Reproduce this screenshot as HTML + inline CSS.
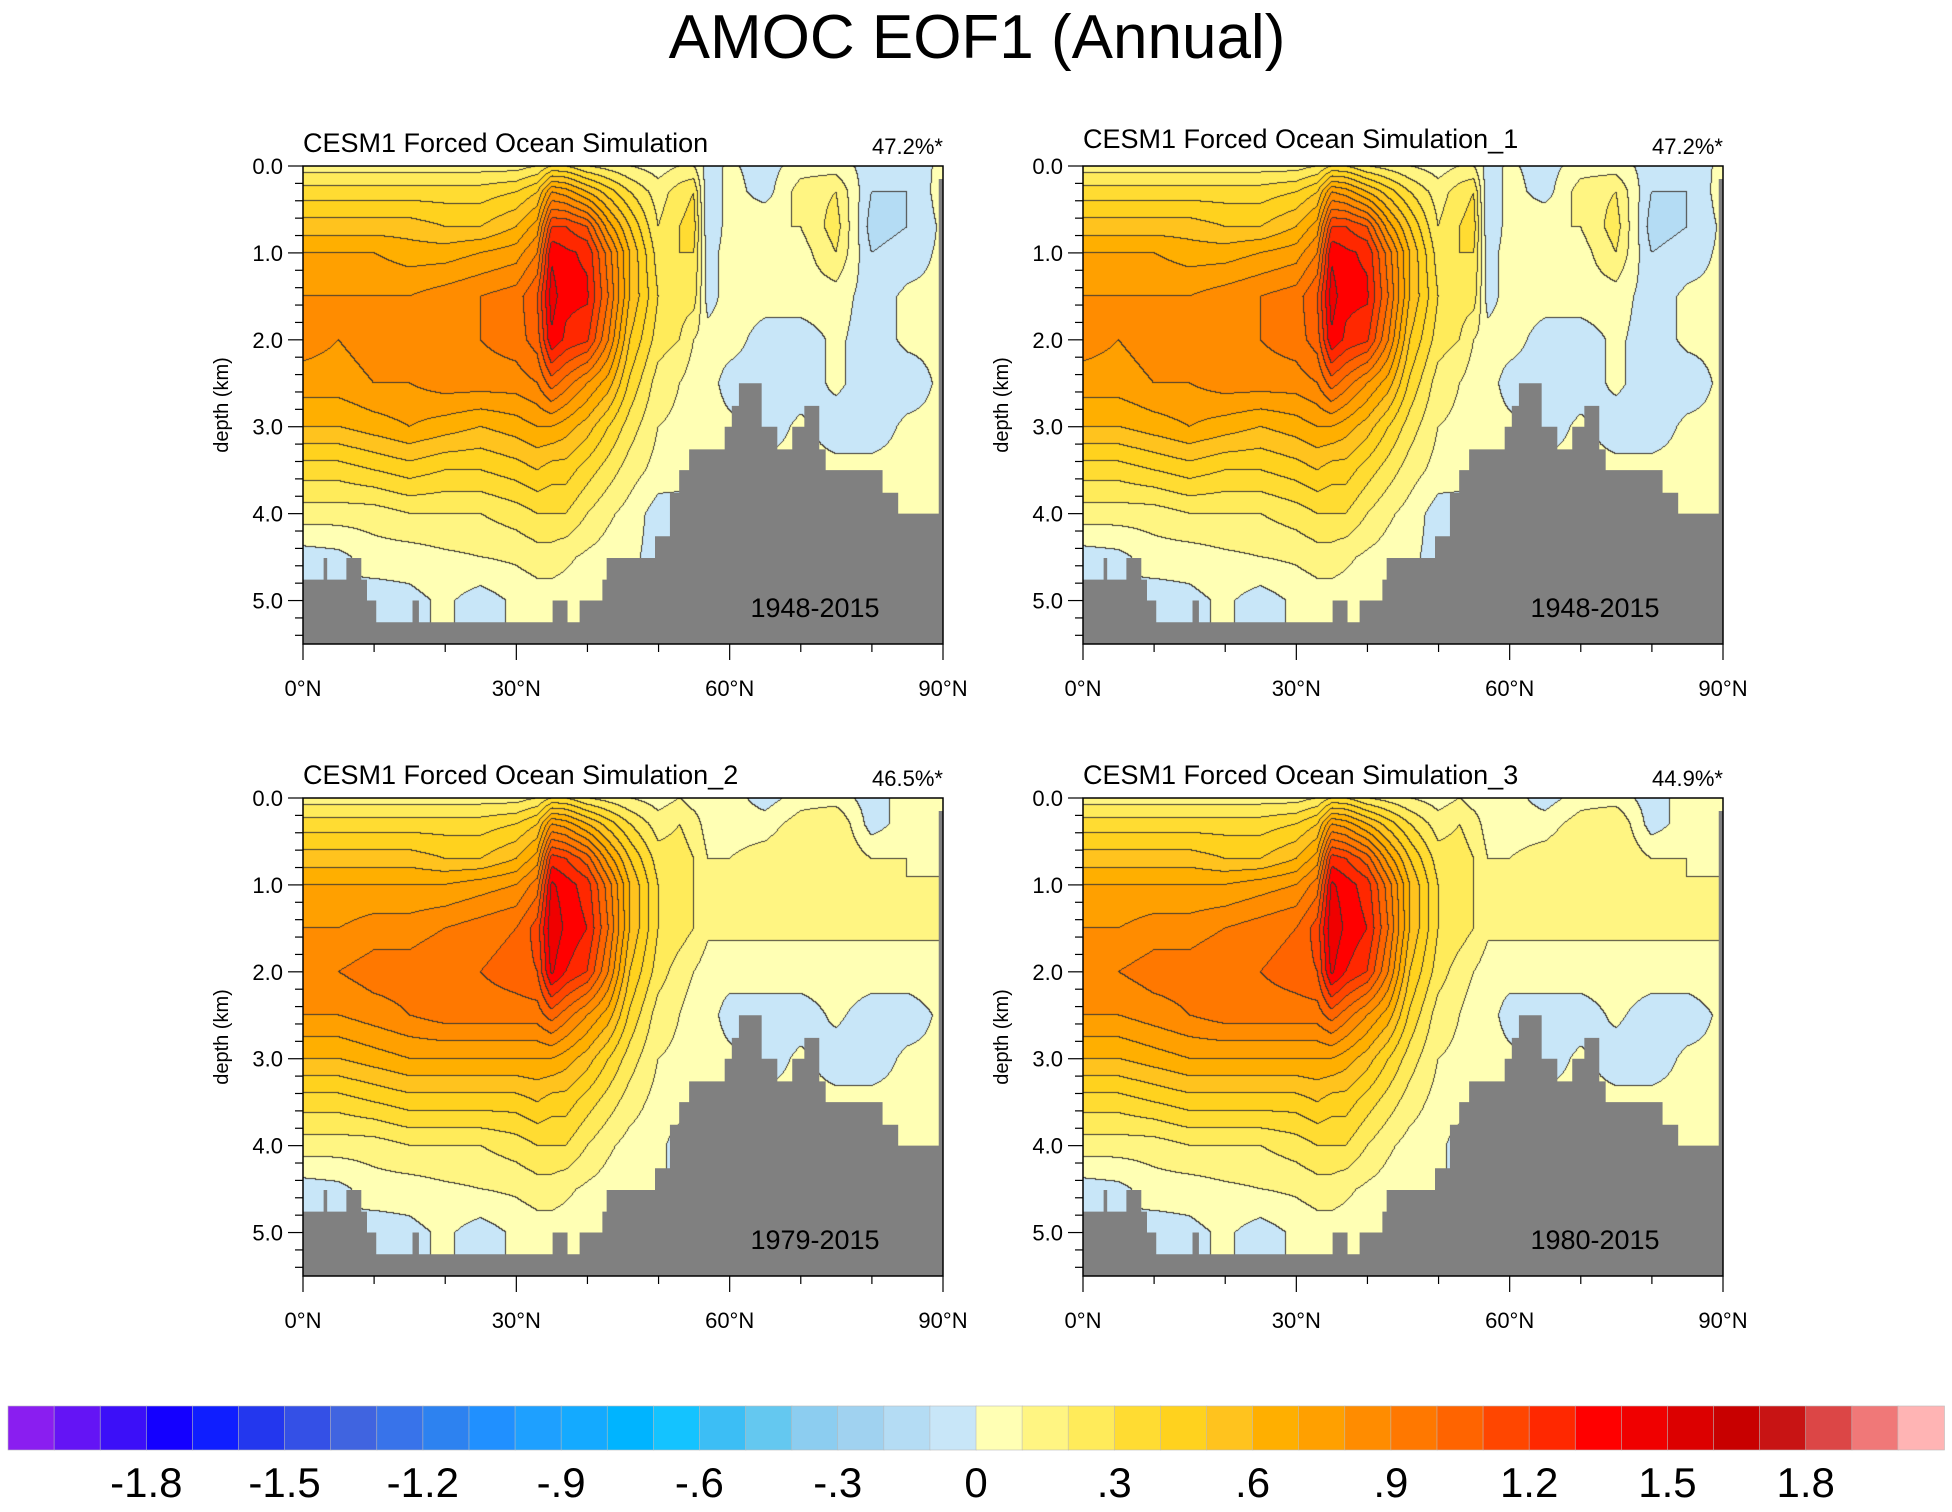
<!DOCTYPE html>
<html><head><meta charset="utf-8">
<style>
html,body{margin:0;padding:0;background:#fff;}
body{width:1952px;height:1512px;position:relative;overflow:hidden;font-family:"Liberation Sans",sans-serif;}
canvas{position:absolute;}
svg{position:absolute;left:0;top:0;}
</style></head>
<body>
<div id="plots"></div>
<svg id="svg" width="1952" height="1512"></svg>
<script>
// ---- data ----
const lats=[0,5,10,15,20,25,30,33,35,37,40,43,46,50,53,55,57,60,65,70,75,80,85,90];
const depths=[0,0.3,0.7,1,1.5,2,2.5,3,3.5,4,4.5,5,5.5];
const gridTop=[
[.15,.15,.15,.15,.15,.15,.15,.2,.3,.3,.2,.15,.1,.05,.1,.1,-.05,.02,-.05,.05,.05,-.05,-.05,.02],
[.35,.35,.35,.35,.35,.35,.4,.5,.8,.75,.6,.45,.3,.15,.25,.3,-.1,.05,-.05,.15,.2,-.1,-.1,.05],
[.55,.55,.55,.55,.5,.5,.6,.75,1.2,1.2,1.1,.75,.5,.2,.3,.35,-.1,.05,.1,.1,.25,-.15,-.1,.02],
[.7,.7,.7,.65,.65,.7,.75,.9,1.38,1.32,1.28,.95,.6,.25,.3,.3,-.05,.05,.1,.05,.2,-.1,-.05,.02],
[.8,.8,.8,.8,.85,.9,.95,1.1,1.45,1.33,1.32,1.0,.6,.3,.25,.25,-.05,.05,.05,.05,.05,-.05,.02,.02],
[.85,.8,.85,.85,.9,.9,.95,1.05,1.38,1.28,1.22,.9,.5,.25,.2,.1,.05,.05,-.05,-.05,.02,-.05,.02,.02],
[.75,.75,.8,.8,.85,.85,.85,.9,1.05,.95,.8,.65,.38,.15,.1,.05,.05,-.05,-.05,-.05,.02,-.05,-.05,.02],
[.6,.6,.65,.7,.65,.6,.65,.7,.7,.65,.55,.4,.25,.1,.08,.05,.05,.03,-.05,.02,-.05,-.05,.02,.02],
[.35,.35,.4,.45,.4,.4,.45,.5,.45,.45,.35,.25,.15,.06,.05,.03,.03,.03,.03,.03,.03,.03,.03,.03],
[.15,.15,.15,.2,.2,.2,.25,.3,.3,.3,.2,.12,.06,-.05,-.05,.03,.03,.03,.03,.03,.03,.03,.03,.03],
[-.05,-.03,.05,.05,.08,.1,.12,.15,.15,.12,.08,.05,.03,-.05,-.05,.03,.03,.03,.03,.03,.03,.03,.03,.03],
[-.05,.02,-.05,-.03,.02,-.05,.02,.05,.05,.05,.03,.03,.03,.03,.03,.03,.03,.03,.03,.03,.03,.03,.03,.03],
[-.05,.02,-.05,-.03,.02,-.05,.02,.05,.05,.05,.03,.03,.03,.03,.03,.03,.03,.03,.03,.03,.03,.03,.03,.03]];
const gridBottom=[
[.15,.15,.15,.15,.15,.15,.15,.2,.3,.3,.2,.15,.1,.05,.1,.05,.05,.05,-.05,.05,.05,-.05,.05,.02],
[.35,.35,.35,.35,.35,.35,.4,.5,.8,.75,.6,.45,.3,.15,.2,.15,.05,.05,.05,.15,.2,-.05,.05,.05],
[.55,.55,.55,.55,.5,.5,.6,.75,1.25,1.2,1.05,.75,.5,.25,.25,.2,.1,.1,.15,.2,.2,.1,.1,.05],
[.7,.7,.7,.7,.7,.75,.8,.95,1.42,1.35,1.25,.95,.6,.3,.25,.2,.12,.12,.15,.2,.15,.12,.1,.12],
[.8,.8,.85,.85,.9,.95,1.0,1.15,1.48,1.38,1.3,1.0,.6,.3,.25,.2,.12,.12,.12,.12,.12,.12,.12,.12],
[.9,.9,.95,.95,1.0,1.0,1.05,1.1,1.42,1.3,1.2,.9,.5,.25,.15,.1,.05,.05,.05,.05,.05,.05,.05,.05],
[.8,.8,.85,.9,.95,.95,.95,.95,1.05,.95,.8,.65,.38,.15,.1,.05,.05,-.05,-.05,-.05,.02,-.05,-.05,.02],
[.6,.6,.65,.7,.7,.7,.7,.7,.7,.65,.55,.4,.25,.1,.08,.05,.05,.03,-.05,.02,-.05,-.05,.02,.02],
[.35,.35,.4,.45,.45,.45,.45,.5,.45,.45,.35,.25,.15,.06,.05,.03,.03,.03,.03,.03,.03,.03,.03,.03],
[.15,.15,.15,.2,.2,.2,.25,.3,.3,.3,.2,.12,.06,.03,-.05,.03,.03,.03,.03,.03,.03,.03,.03,.03],
[-.05,-.03,.05,.05,.08,.1,.12,.15,.15,.12,.08,.05,.03,.03,-.05,.03,.03,.03,.03,.03,.03,.03,.03,.03],
[-.05,.02,-.05,-.03,.02,-.05,.02,.05,.05,.05,.03,.03,.03,.03,.03,.03,.03,.03,.03,.03,.03,.03,.03,.03],
[-.05,.02,-.05,-.03,.02,-.05,.02,.05,.05,.05,.03,.03,.03,.03,.03,.03,.03,.03,.03,.03,.03,.03,.03,.03]];
const topoLat=[0,2.9,3.4,6.1,8.2,9,10.3,15.4,16.3,35.1,37.2,38.9,42.1,42.7,49.5,51.6,52.9,54.3,59.3,60.3,61.3,64.5,66.7,68.8,70.5,72.6,73.5,81.5,83.7,89.4];
const topoDepth=[4.76,4.51,4.76,4.51,4.76,5.0,5.25,5.0,5.25,5.0,5.25,5.0,4.76,4.51,4.26,3.76,3.5,3.26,3.0,2.76,2.5,3.0,3.26,3.0,2.76,3.26,3.5,3.76,4.0,0.15];
const panelTitles=["CESM1 Forced Ocean Simulation","CESM1 Forced Ocean Simulation_1","CESM1 Forced Ocean Simulation_2","CESM1 Forced Ocean Simulation_3"];
const panelPcts=["47.2%*","47.2%*","46.5%*","44.9%*"];
const panelYears=["1948-2015","1948-2015","1979-2015","1980-2015"];
const yTicks=[0,1,2,3,4,5];
const yTickLabels=["0.0","1.0","2.0","3.0","4.0","5.0"];
const xTicks=[0,30,60,90];
const xTickLabels=["0°N","30°N","60°N","90°N"];
const cbColors=["#8a1ef0","#6414f5","#3c0ff8","#1400ff","#0f1eff","#2337ee","#3450e6","#4064e0","#3873ea","#2d82f0","#2090ff","#1ea0ff","#14aaff","#00b4ff","#14c3ff","#3cbef5","#64c8f0","#8ccdf0","#a0d2f0","#b4dcf4","#c8e6f8","#ffffb4","#fff582","#ffeb5a","#ffdc32","#ffd21e","#ffc31e","#ffaf00","#ffa000","#ff8c00","#ff7800","#ff6400","#ff4600","#ff2800","#ff0000","#f00000","#dc0000","#c80000","#c81414","#dc4646","#f07878","#ffb4b4"];
const cbLabels=["-1.8","-1.5","-1.2","-.9","-.6","-.3","0",".3",".6",".9","1.2","1.5","1.8"];
const cbLabelVals=[-1.8,-1.5,-1.2,-0.9,-0.6,-0.3,0,0.3,0.6,0.9,1.2,1.5,1.8];

// ---- layout ----
const PW=640,PH=478;
const panelPos=[[303,166],[1083,166],[303,798],[1083,798]];
const panelGrids=[gridTop,gridTop,gridBottom,gridBottom];
const titleDy=[0,-4,0,0];
const NS="http://www.w3.org/2000/svg";
const svg=document.getElementById('svg');
function mk(tag,attrs,parent,txt){const e=document.createElementNS(NS,tag);for(const k in attrs)e.setAttribute(k,attrs[k]);if(txt!==undefined)e.textContent=txt;(parent||svg).appendChild(e);return e;}
function hex(c){return [parseInt(c.substr(1,2),16),parseInt(c.substr(3,2),16),parseInt(c.substr(5,2),16)];}
const rgb=cbColors.map(hex);
function xScale(lat){return lat/90*PW;}
function yScale(d){return d/5.5*PH;}
function bracket(arr,v){let i=0;while(i<arr.length-2&&v>arr[i+1])i++;const t=(v-arr[i])/(arr[i+1]-arr[i]);return [i,Math.max(0,Math.min(1,t))];}
function level(v){let k=Math.floor(v/0.1+1e-9)+21;return Math.max(0,Math.min(41,k));}

mk('text',{x:977,y:58,'font-size':62,'text-anchor':'middle',},svg,"AMOC EOF1 (Annual)");

panelPos.forEach((p,pi)=>{
  const [ox,oy]=p;const grid=panelGrids[pi];
  const cv=document.createElement('canvas');cv.width=PW;cv.height=PH;
  cv.style.left=ox+'px';cv.style.top=oy+'px';
  
  
  document.getElementById('plots').appendChild(cv);
  const ctx=cv.getContext('2d');const img=ctx.createImageData(PW,PH);
  const xb=[],yb=[];
  for(let x=0;x<PW;x++)xb.push(bracket(lats,(x+0.5)/PW*90));
  for(let y=0;y<PH;y++)yb.push(bracket(depths,(y+0.5)/PH*5.5));
  const L=new Int8Array(PW*PH);
  for(let y=0;y<PH;y++){const [j,u]=yb[y];for(let x=0;x<PW;x++){const [i,t]=xb[x];
    const v=(1-u)*((1-t)*grid[j][i]+t*grid[j][i+1])+u*((1-t)*grid[j+1][i]+t*grid[j+1][i+1]);
    L[y*PW+x]=level(v);}}
  for(let y=0;y<PH;y++)for(let x=0;x<PW;x++){const k=L[y*PW+x];let c=rgb[k];
    const edge=(x<PW-1&&L[y*PW+x+1]!==k)||(y<PH-1&&L[(y+1)*PW+x]!==k);
    const o=(y*PW+x)*4;
    if(edge){img.data[o]=60;img.data[o+1]=55;img.data[o+2]=50;}else{img.data[o]=c[0];img.data[o+1]=c[1];img.data[o+2]=c[2];}
    img.data[o+3]=255;}
  ctx.putImageData(img,0,0);

  const g=mk('g',{transform:`translate(${ox},${oy})`,});
  let d=`M0,${PH}`;
  topoLat.forEach((la,i)=>{const x0=xScale(la),x1=xScale(i+1<topoLat.length?topoLat[i+1]:90),yy=yScale(topoDepth[i]);d+=` L${x0},${yy} L${x1},${yy}`;});
  d+=` L${PW},${PH} Z`;
  mk('path',{d:d,fill:'#808080',},g);
  mk('rect',{x:0,y:0,width:PW,height:PH,fill:'none',stroke:'#000','stroke-width':1.5,},g);
  for(let m=0;m<=27;m++){const dv=m*0.2;if(dv>5.5)break;const yy=yScale(dv);const major=Math.abs(dv-Math.round(dv))<1e-6;
    mk('line',{x1:0,y1:yy,x2:major?-15:-8,y2:yy,stroke:'#000','stroke-width':1.2,},g);}
  yTicks.forEach((t,i)=>mk('text',{x:-20,y:yScale(t)+8,'font-size':22,'text-anchor':'end',},g,yTickLabels[i]));
  for(let la=0;la<=90;la+=10){const xx=xScale(la);const major=la%30===0;
    mk('line',{x1:xx,y1:PH,x2:xx,y2:PH+(major?16:8),stroke:'#000','stroke-width':1.2,},g);}
  xTicks.forEach((t,i)=>mk('text',{x:xScale(t),y:PH+52,'font-size':22,'text-anchor':'middle',},g,xTickLabels[i]));
  mk('text',{x:-82,y:PH/2,'font-size':20,'text-anchor':'middle',transform:`rotate(-90 -82 ${PH/2})`,},g,"depth (km)").setAttribute('dy','7');
  mk('text',{x:0,y:-14+titleDy[pi],'font-size':27,},g,panelTitles[pi]);
  mk('text',{x:PW,y:-12,'font-size':22,'text-anchor':'end',},g,panelPcts[pi]);
  mk('text',{x:512,y:451,'font-size':27,'text-anchor':'middle',},g,panelYears[pi]);
});

const cbX0=8,cbX1=1944,cbY=1406,cbH=44;const bw=(cbX1-cbX0)/cbColors.length;
const cb=mk('g',{});
cbColors.forEach((c,i)=>mk('rect',{x:cbX0+i*bw,y:cbY,width:bw+0.5,height:cbH,fill:c,stroke:'#bbb','stroke-width':0.6,},cb));
function cbScale(v){return cbX0+(v/0.1+21)*bw;}
cbLabelVals.forEach((v,i)=>mk('text',{x:cbScale(v),y:1497,'font-size':42,'text-anchor':'middle',},cb,cbLabels[i]));
</script>
</body></html>
